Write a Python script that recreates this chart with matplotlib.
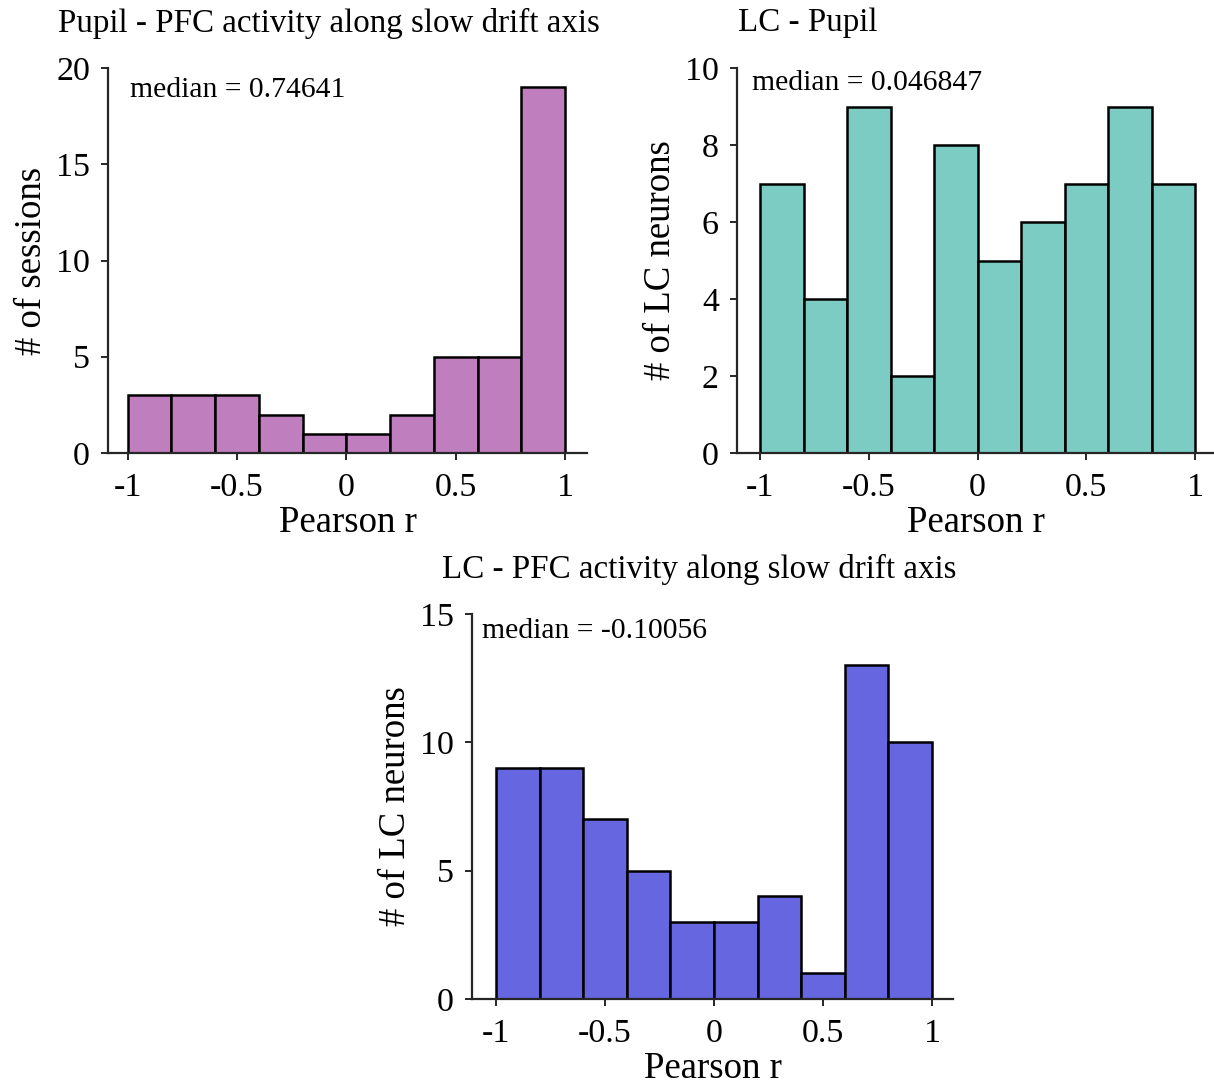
"""
Histograms of Pearson r between pupil, LC and PFC slow drift.
"""
import numpy as np
import matplotlib
matplotlib.use('Agg')
import matplotlib.pyplot as plt

plt.rcParams['font.family'] = ['Liberation Serif', 'DejaVu Serif']

# --- Histogram counts per bin (edges -1:0.2:1) ---
binEdges = np.round(np.arange(-1, 1.0001, 0.2), 2)
pupilPfcCounts = [3, 3, 3, 2, 1, 1, 2, 5, 5, 19]
lcPupilCounts = [7, 4, 9, 2, 8, 5, 6, 7, 9, 7]
lcPfcCounts = [9, 9, 7, 5, 3, 3, 4, 1, 13, 10]

pupilPfcMedian = '0.74641'
lcPupilMedian = '0.046847'
lcPfcMedian = '-0.10056'

xTicks = [-1, -0.5, 0, 0.5, 1]
xTickLabels = ['-1', '-0.5', '0', '0.5', '1']

W, H = 1214, 1087
fig = plt.figure(figsize=(W / 100, H / 100), dpi=100)


def px(x0, y0, x1, y1):
    # pixel box -> figure fraction rect
    return [x0 / W, 1 - y1 / H, (x1 - x0) / W, (y1 - y0) / H]


def drawHist(rect, counts, color, ylim, yticks, xlim, ylabel):
    ax = fig.add_axes(rect)
    ax.bar(binEdges[:-1], counts, width=0.2, align='edge', color=color,
           edgecolor='black', linewidth=1.8)
    ax.set_xlim(*xlim)
    ax.set_ylim(*ylim)
    ax.set_xticks(xTicks)
    ax.set_xticklabels(xTickLabels)
    ax.set_yticks(yticks)
    for side in ['top', 'right']:
        ax.spines[side].set_visible(False)
    for side in ['left', 'bottom']:
        ax.spines[side].set_linewidth(1.6)
        ax.spines[side].set_color('#262626')
    ax.tick_params(direction='out', length=5, width=1.4, color='#262626',
                   labelsize=24.5)
    ax.tick_params(axis='x', pad=9)
    ax.tick_params(axis='y', pad=8)
    ax.set_xlabel('Pearson r', fontsize=26.5, labelpad=2)
    ax.set_ylabel(ylabel, fontsize=26.5, labelpad=5)
    return ax


ax1 = drawHist(px(108, 68, 587, 453), pupilPfcCounts, '#BF7FBF',
               (0, 20), [0, 5, 10, 15, 20], (-1.09, 1.10), '# of sessions')
ax1.text(0.045, 0.943, f'median = {pupilPfcMedian}', transform=ax1.transAxes,
         fontsize=21.3, va='center', ha='left')
fig.text(58 / W, 1 - 23 / H, 'Pupil - PFC activity along slow drift axis',
         fontsize=23.8, va='center', ha='left')

ax2 = drawHist(px(737, 68, 1214, 453), lcPupilCounts, '#7CCCC4',
               (0, 10), [0, 2, 4, 6, 8, 10], (-1.106, 1.087), '# of LC neurons')
ax2.text(0.032, 0.96, f'median = {lcPupilMedian}', transform=ax2.transAxes,
         fontsize=21.3, va='center', ha='left')
fig.text(738 / W, 1 - 23 / H, 'LC - Pupil',
         fontsize=23.8, va='center', ha='left')

ax3 = drawHist(px(472, 614, 953, 999), lcPfcCounts, '#6666E0',
               (0, 15), [0, 5, 10, 15], (-1.11, 1.096), '# of LC neurons')
ax3.text(0.02, 0.955, f'median = {lcPfcMedian}', transform=ax3.transAxes,
         fontsize=21.3, va='center', ha='left')
fig.text(442 / W, 1 - 569 / H, 'LC - PFC activity along slow drift axis',
         fontsize=23.8, va='center', ha='left')

plt.savefig('out.png', dpi=100)
plt.close()
